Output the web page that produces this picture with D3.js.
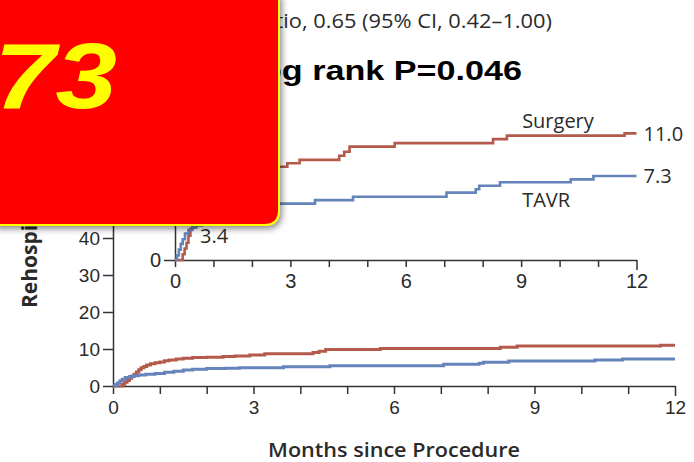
<!DOCTYPE html>
<html lang="en">
<head>
<meta charset="UTF-8">
<title>Rehospitalization</title>
<script src="https://d3js.org/d3.v7.min.js"></script>
<style>
    body { margin: 0; background: #fff; }
    svg { display: block; font-family: 'Open Sans', 'Noto Sans', sans-serif; }
    .axis path, .axis line { stroke: #333; stroke-width: 1.5; }
    .axis text { fill: #2a2a2a; }
</style>
</head>
<body>
<svg id="chart" width="694" height="462"></svg>
<script>
    // Kaplan-Meier steps (months, cumulative %)
    const surgeryMonths = [0, 0.17, 0.2, 0.25, 0.3, 0.35, 0.4, 0.45, 0.5, 0.55, 0.6, 0.66, 0.72, 0.8, 0.9, 1.0, 1.1, 1.2, 1.35, 1.5, 1.7, 2.0, 2.35, 2.6, 2.92, 3.24, 4.27, 4.4, 4.54, 5.71, 8.27, 8.63, 11.69, 12];
    const surgeryRate = [0, 0, 0.5, 1.0, 1.5, 2.1, 2.7, 3.2, 3.8, 4.4, 4.9, 5.3, 5.7, 6.0, 6.3, 6.5, 6.8, 7.0, 7.3, 7.5, 7.7, 7.8, 8.0, 8.1, 8.4, 8.7, 9.05, 9.4, 9.85, 10.15, 10.5, 10.8, 11.0, 11.0];
    const tavrMonths = [0, 0.05, 0.1, 0.15, 0.2, 0.26, 0.35, 0.45, 0.55, 0.7, 0.9, 1.1, 1.3, 1.5, 1.7, 2.0, 2.4, 2.7, 3.64, 4.63, 7.06, 7.82, 7.91, 8.45, 10.29, 10.88, 12];
    const tavrRate = [0, 0.4, 0.9, 1.4, 1.8, 2.3, 2.6, 2.8, 3.0, 3.2, 3.4, 3.7, 4.0, 4.3, 4.5, 4.7, 4.8, 4.9, 5.2, 5.5, 5.85, 6.15, 6.45, 6.75, 7.0, 7.3, 7.3];

    const monthTicks = d3.range(0, 13);
    const mainYTicks = d3.range(0, 101, 10);
    const insetYTicks = [0, 5, 10, 15];

    const svg = d3.select("#chart");
    const red = "#b35a4b";
    const blue = "#6584bb";

    const surgery = surgeryMonths.map((m, i) => ({ m: m, v: surgeryRate[i] }));
    const tavr = tavrMonths.map((m, i) => ({ m: m, v: tavrRate[i] }));

    // main plot
    const x = d3.scaleLinear().domain([0, 12]).range([113, 675]);
    const y = d3.scaleLinear().domain([0, 100]).range([386, 16]);

    const xAxis = svg.append("g")
        .attr("class", "axis")
        .attr("transform", "translate(0,386)")
        .call(d3.axisBottom(x).tickValues(monthTicks).tickSize(8).tickSizeOuter(0)
            .tickFormat(d => d % 3 === 0 ? d : ""));
    xAxis.selectAll("text").attr("font-size", 19).attr("dy", "0.9em");
    xAxis.selectAll(".tick").filter(d => d === 12).select("line").attr("y2", 10);

    const yAxis = svg.append("g")
        .attr("class", "axis")
        .attr("transform", "translate(113,0)")
        .call(d3.axisLeft(y).tickValues(mainYTicks).tickSize(10).tickSizeOuter(0).tickPadding(3));
    yAxis.selectAll("text").attr("font-size", 19);

    const line = d3.line().curve(d3.curveStepAfter).x(d => x(d.m)).y(d => y(d.v));
    svg.append("path").datum(surgery).attr("d", line)
        .attr("fill", "none").attr("stroke", red).attr("stroke-width", 3);
    svg.append("path").datum(tavr).attr("d", line)
        .attr("fill", "none").attr("stroke", blue).attr("stroke-width", 3);

    svg.append("text")
        .attr("transform", `translate(${(x(0) + x(12)) / 2},457) scale(1.08,1)`)
        .attr("text-anchor", "middle")
        .attr("font-size", 20)
        .attr("font-weight", 600)
        .attr("fill", "#2a2a2a")
        .text("Months since Procedure");

    svg.append("text")
        .attr("transform", "translate(37,308) rotate(-90)")
        .attr("font-size", 21)
        .attr("font-weight", 700)
        .attr("fill", "#2a2a2a")
        .text("Rehospitalization (%)");

    // inset
    const xi = d3.scaleLinear().domain([0, 12]).range([175, 636.5]);
    const yi = d3.scaleLinear().domain([0, 15]).range([260, 87.3]);

    const xiAxis = svg.append("g")
        .attr("class", "axis")
        .attr("transform", "translate(0,260)")
        .call(d3.axisBottom(xi).tickValues(monthTicks).tickSize(7).tickSizeOuter(0)
            .tickFormat(d => d % 3 === 0 ? d : ""));
    xiAxis.selectAll("text").attr("font-size", 20).attr("dy", "0.9em");
    xiAxis.selectAll(".tick").filter(d => d === 12).select("line").attr("y2", 10);

    const yiAxis = svg.append("g")
        .attr("class", "axis")
        .attr("transform", "translate(175,0)")
        .call(d3.axisLeft(yi).tickValues(insetYTicks).tickSize(11).tickPadding(3).tickSizeOuter(0));
    yiAxis.selectAll("text").attr("font-size", 20);

    const lineI = d3.line().curve(d3.curveStepAfter).x(d => xi(d.m)).y(d => yi(d.v));
    svg.append("path").datum(surgery).attr("d", lineI)
        .attr("fill", "none").attr("stroke", red).attr("stroke-width", 2.6);
    svg.append("path").datum(tavr).attr("d", lineI)
        .attr("fill", "none").attr("stroke", blue).attr("stroke-width", 2.6);

    const lastS = surgery[surgery.length - 1];
    const lastT = tavr[tavr.length - 1];
    const lbl = svg.append("g").attr("font-size", 20).attr("fill", "#2a2a2a");
    lbl.append("text").attr("x", xi(12) + 7).attr("y", yi(lastS.v) + 8).text(lastS.v.toFixed(1));
    lbl.append("text").attr("x", xi(12) + 7).attr("y", yi(lastT.v) + 7).text(lastT.v.toFixed(1));
    lbl.append("text").attr("x", xi(9) + 1).attr("y", yi(lastS.v) - 5).text("Surgery");
    lbl.append("text").attr("x", xi(9) + 1).attr("y", yi(lastT.v) + 31).text("TAVR");
    lbl.append("text").attr("x", xi(0.65)).attr("y", yi(3.4) + 22).text("3.4");

    // header text (source type is drawn a little wide)
    svg.append("text")
        .attr("transform", "translate(552,28) scale(1.12,1)")
        .attr("text-anchor", "end")
        .attr("font-size", 19.5)
        .attr("fill", "#2a2a2a")
        .text("Hazard ratio, 0.65 (95% CI, 0.42\u20131.00)");

    svg.append("text")
        .attr("transform", "translate(522,80) scale(1.22,1)")
        .attr("text-anchor", "end")
        .attr("font-family", "'Liberation Sans', Arial, sans-serif")
        .attr("font-size", 28)
        .attr("font-weight", 700)
        .attr("fill", "#000")
        .text("Log rank P=0.046");

    // red badge on top
    const defs = svg.append("defs");
    const f = defs.append("filter").attr("id", "shadow")
        .attr("x", "-20%").attr("y", "-20%").attr("width", "140%").attr("height", "140%");
    f.append("feDropShadow").attr("dx", 2).attr("dy", 3).attr("stdDeviation", 3)
        .attr("flood-color", "#000").attr("flood-opacity", 0.45);

    svg.append("path")
        .attr("d", "M-5,-5 H279 V210 Q279,225 264,225 H-5 Z")
        .attr("fill", "#ff0000")
        .attr("stroke", "#ffff00")
        .attr("stroke-width", 2)
        .attr("filter", "url(#shadow)");

    svg.append("text")
        .attr("transform", "translate(117,108) scale(1.2,1)")
        .attr("text-anchor", "end")
        .attr("font-family", "'Liberation Sans', Arial, sans-serif")
        .attr("font-size", 92)
        .attr("font-weight", 700)
        .attr("font-style", "italic")
        .attr("fill", "#ffff00")
        .text("73");
</script>
</body>
</html>
